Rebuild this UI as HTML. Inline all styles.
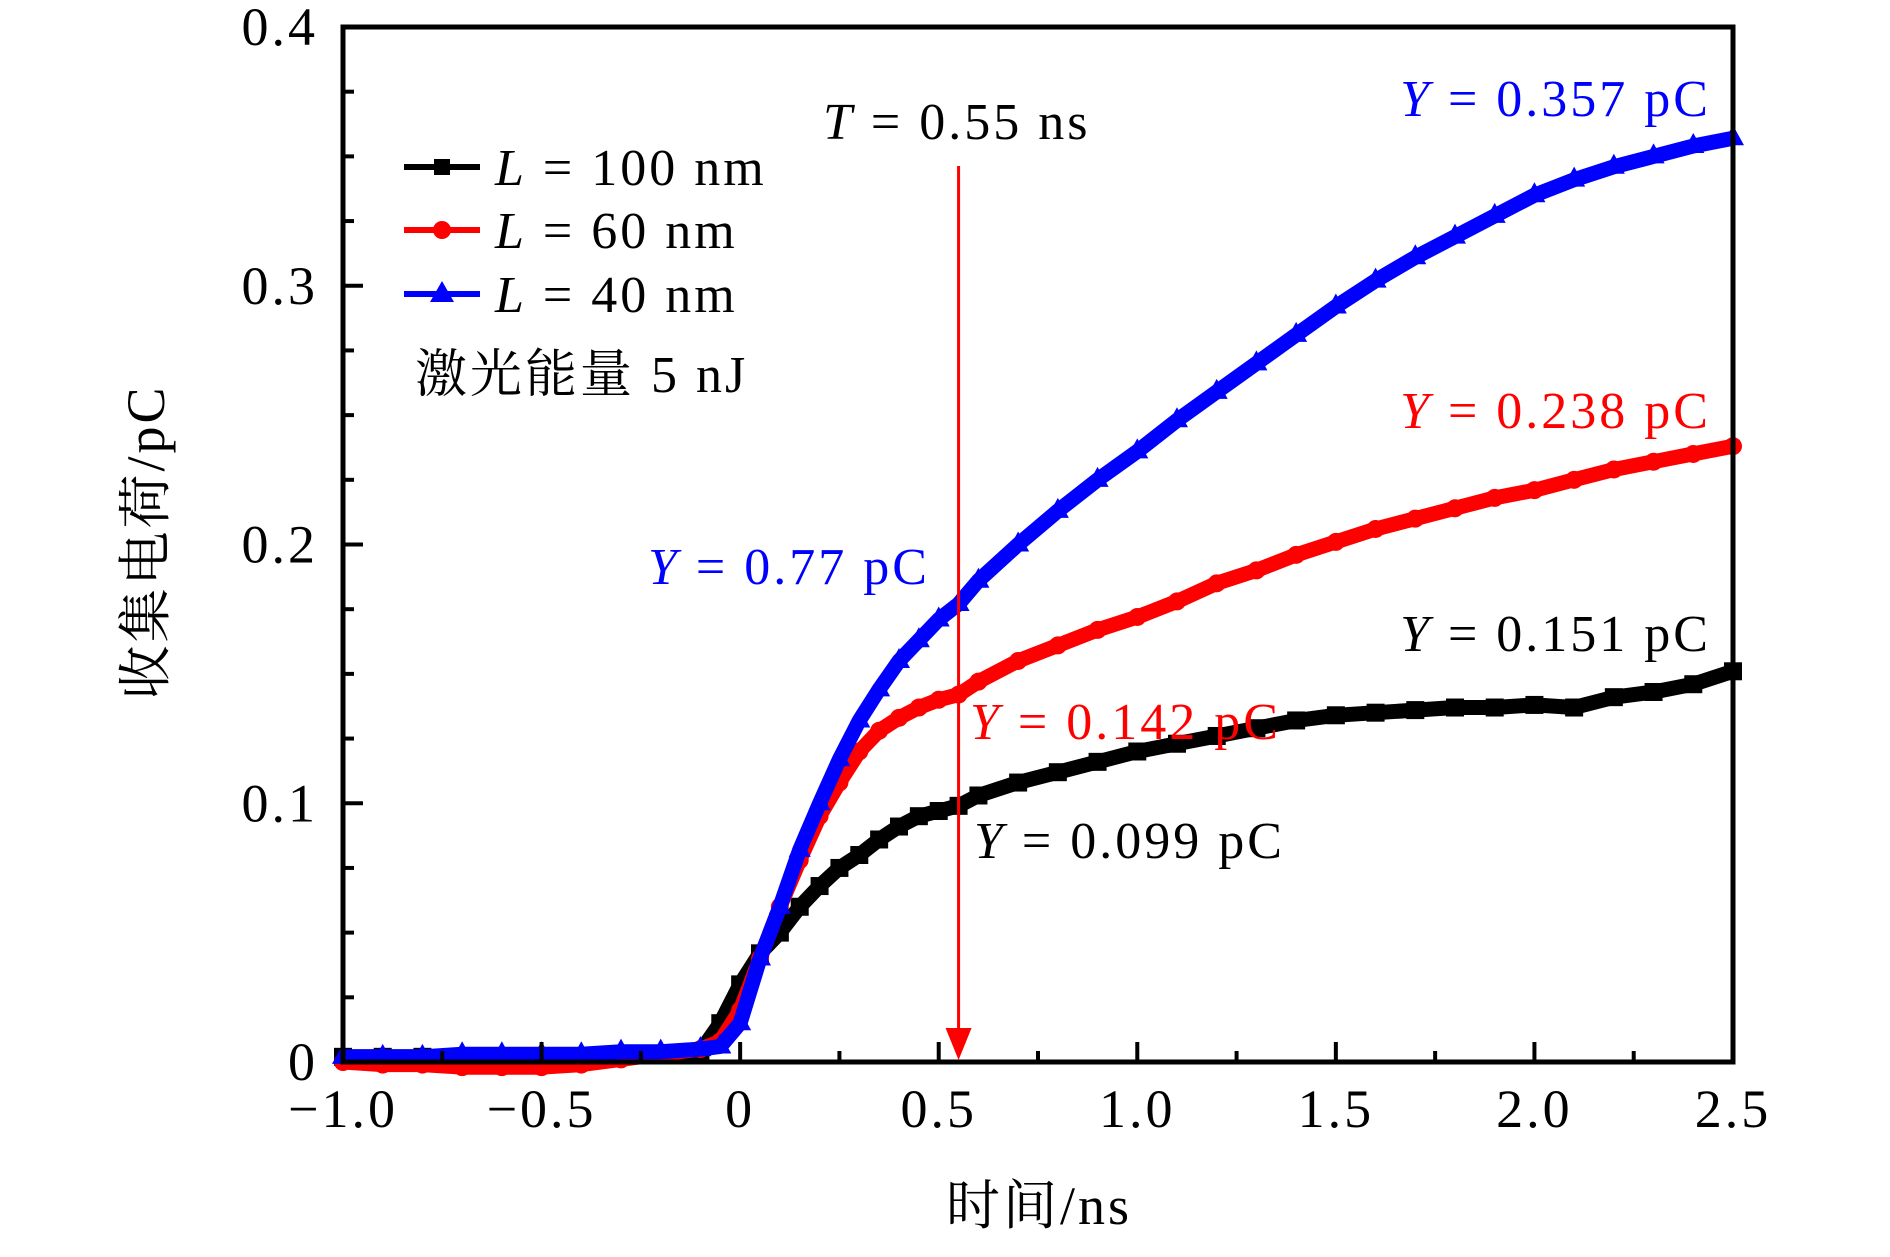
<!DOCTYPE html>
<html><head><meta charset="utf-8"><style>
html,body{margin:0;padding:0;background:#fff;}
svg text{font-family:"Liberation Serif","Noto Serif CJK SC",serif;}
</style></head><body>
<svg id="chart" width="1890" height="1252" viewBox="0 0 1890 1252" xmlns="http://www.w3.org/2000/svg">
<g id="series"></g>
<g id="axes"></g>
<g id="labels"></g>
</svg>
<script>
const xTicks = [-1.0, -0.5, 0, 0.5, 1.0, 1.5, 2.0, 2.5];
const xTickLabels = ["\u22121.0", "\u22120.5", "0", "0.5", "1.0", "1.5", "2.0", "2.5"];
const yTicks = [0, 0.1, 0.2, 0.3, 0.4];
const yTickLabels = ["0", "0.1", "0.2", "0.3", "0.4"];
const times = [-1.0,-0.9,-0.8,-0.7,-0.6,-0.5,-0.4,-0.3,-0.2,-0.1,-0.05,0,0.05,0.1,0.15,0.2,0.25,0.3,0.35,0.4,0.45,0.5,0.55,0.6,0.7,0.8,0.9,1.0,1.1,1.2,1.3,1.4,1.5,1.6,1.7,1.8,1.9,2.0,2.1,2.2,2.3,2.4,2.5];
const black100 = [0.002,0.002,0.002,0.002,0.002,0.002,0.002,0.003,0.003,0.004,0.015,0.03,0.042,0.05,0.06,0.068,0.075,0.08,0.086,0.091,0.095,0.097,0.099,0.103,0.108,0.112,0.116,0.12,0.123,0.126,0.129,0.132,0.134,0.135,0.136,0.137,0.137,0.138,0.137,0.141,0.143,0.146,0.151];
const red60 = [0.0,-0.001,-0.001,-0.002,-0.002,-0.002,-0.001,0.001,0.003,0.005,0.008,0.02,0.04,0.06,0.078,0.095,0.108,0.12,0.128,0.133,0.137,0.14,0.142,0.147,0.155,0.161,0.167,0.172,0.178,0.185,0.19,0.196,0.201,0.206,0.21,0.214,0.218,0.221,0.225,0.229,0.232,0.235,0.238];
const blue40 = [0.002,0.002,0.002,0.003,0.003,0.003,0.003,0.004,0.004,0.005,0.006,0.015,0.04,0.06,0.082,0.1,0.117,0.132,0.144,0.155,0.163,0.171,0.177,0.186,0.2,0.213,0.225,0.236,0.248,0.259,0.27,0.281,0.292,0.302,0.311,0.319,0.327,0.335,0.341,0.346,0.35,0.354,0.357];
const annotT = 0.55;

const L=343, R=1733, T=27, B=1062;
const X0=-1, X1=2.5, Y0=0, Y1=0.4;
function sx(v){return L+(v-X0)/(X1-X0)*(R-L);}
function sy(v){return B-(v-Y0)/(Y1-Y0)*(B-T);}
const NS="http://www.w3.org/2000/svg";
function mk(tag,attrs,parent){const e=document.createElementNS(NS,tag);for(const k in attrs)e.setAttribute(k,attrs[k]);parent.appendChild(e);return e;}
const gS=document.getElementById('series'), gA=document.getElementById('axes'), gL=document.getElementById('labels');

function drawSeries(vals,color,marker,name){
  const g=mk('g',{},gS);
  
  
  const pts=times.map((t,i)=>sx(t).toFixed(1)+','+sy(vals[i]).toFixed(1)).join(' ');
  const pl=mk('polyline',{points:pts,fill:'none',stroke:color,'stroke-width':15,'stroke-linejoin':'round'},g);
  
  
  times.forEach((t,i)=>{
    const x=sx(t), y=sy(vals[i]); let m;
    if(marker==='sq') m=mk('rect',{x:x-9,y:y-9,width:18,height:18,fill:color},g);
    else if(marker==='ci') m=mk('circle',{cx:x,cy:y,r:9,fill:color},g);
    else m=mk('polygon',{points:`${x},${y-13} ${x-11},${y+7} ${x+11},${y+7}`,fill:color},g);
    
    
  });
}
drawSeries(black100,'#000','sq','series-l100');
drawSeries(red60,'#f00','ci','series-l60');
drawSeries(blue40,'#00f','tri','series-l40');

const frame=mk('rect',{x:L,y:T,width:R-L,height:B-T,fill:'none',stroke:'#000','stroke-width':5},gA);


for(let v=-1;v<=2.5001;v+=0.25){
  const major=Math.abs(v*2-Math.round(v*2))<1e-6;
  const t=mk('line',{x1:sx(v),x2:sx(v),y1:B,y2:B-(major?20:11),stroke:'#000','stroke-width':4},gA);
  
  
}
for(let v=0;v<=0.4001;v+=0.025){
  const major=Math.abs(v*10-Math.round(v*10))<1e-6;
  const t=mk('line',{x1:L,x2:L+(major?20:11),y1:sy(v),y2:sy(v),stroke:'#000','stroke-width':4},gA);
  
  
}
xTicks.forEach((v,i)=>{
  const t=mk('text',{x:sx(v),y:1127,'font-size':54,'letter-spacing':3,'text-anchor':'middle',fill:'#000'},gL);
  t.textContent=xTickLabels[i];
  
  
});
yTicks.forEach((v,i)=>{
  const t=mk('text',{x:318,y:sy(v)+18,'font-size':54,'letter-spacing':3,'text-anchor':'end',fill:'#000'},gL);
  t.textContent=yTickLabels[i];
  
  
});

const ax=sx(annotT);
const arr=mk('line',{x1:ax,x2:ax,y1:166,y2:B-28,stroke:'#f00','stroke-width':3},gL);


const ah=mk('polygon',{points:`${ax-13},${B-34} ${ax+13},${B-34} ${ax},${B-2}`,fill:'#f00'},gL);



const leg=[['#000','sq',167,'legend-l100'],['#f00','ci',230,'legend-l60'],['#00f','tri',294,'legend-l40']];
leg.forEach(([c,m,y,n])=>{
  const g=mk('g',{},gL);
  
  
  mk('line',{x1:404,x2:480,y1:y,y2:y,stroke:c,'stroke-width':6},g);
  if(m==='sq') mk('rect',{x:434,y:y-8,width:16,height:16,fill:c},g);
  else if(m==='ci') mk('circle',{cx:442,cy:y,r:9,fill:c},g);
  else mk('polygon',{points:`442,${y-13} 430,${y+8} 454,${y+8}`,fill:c},g);
});
</script>
<svg style="position:absolute;left:0;top:0" width="1890" height="1252">
<g font-family="Liberation Serif, Noto Serif CJK SC, serif" font-size="52" letter-spacing="3">
<text x="495" y="185"><tspan font-style="italic">L</tspan>  =  100  nm</text>
<text x="495" y="248"><tspan font-style="italic">L</tspan>  =  60  nm</text>
<text x="495" y="312"><tspan font-style="italic">L</tspan>  =  40  nm</text>
<text x="415" y="392">激光能量 5 nJ</text>
<text x="823" y="139"><tspan font-style="italic">T</tspan> = 0.55  ns</text>
<text x="1711" y="116" text-anchor="end" fill="#00f"><tspan font-style="italic">Y</tspan> = 0.357  pC</text>
<text x="1711" y="428" text-anchor="end" fill="#f00"><tspan font-style="italic">Y</tspan> = 0.238  pC</text>
<text x="1711" y="651" text-anchor="end" fill="#000"><tspan font-style="italic">Y</tspan> = 0.151  pC</text>
<text x="648" y="584" fill="#00f"><tspan font-style="italic">Y</tspan> = 0.77  pC</text>
<text x="970" y="739" fill="#f00"><tspan font-style="italic">Y</tspan> = 0.142  pC</text>
<text x="974" y="858" fill="#000"><tspan font-style="italic">Y</tspan> = 0.099  pC</text>
<text x="1039" y="1224" text-anchor="middle" font-size="54">时间/ns</text>
<text transform="translate(164,542) rotate(-90)" text-anchor="middle" font-size="54">收集电荷/pC</text>
</g>
</svg>
</body></html>
